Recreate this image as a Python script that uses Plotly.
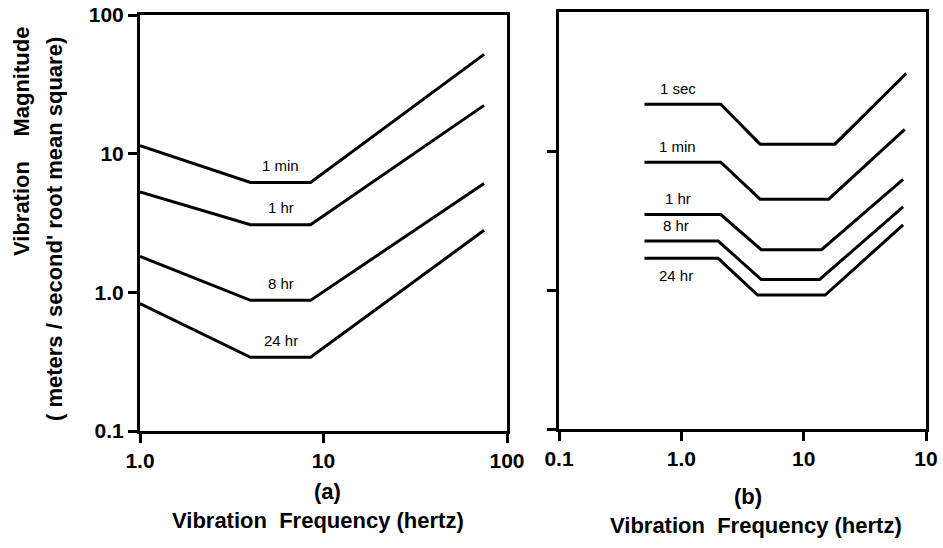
import numpy as np
import plotly.graph_objects as go

# ---------------- Panel (a) data ----------------
a_labels = ["1 min", "1 hr", "8 hr", "24 hr"]
a_freq = [1.0, 4.0, 8.5, 75.0]
a_1min = [11.4, 6.2, 6.2, 52.0]
a_1hr = [5.3, 3.07, 3.07, 22.3]
a_8hr = [1.82, 0.875, 0.875, 6.1]
a_24hr = [0.83, 0.34, 0.34, 2.8]

# ---------------- Panel (b) data ----------------
b_labels = ["1 sec", "1 min", "1 hr", "8 hr", "24 hr"]
b_freq_1sec = [0.5, 2.1, 4.4, 18.0, 69.0]
b_freq_1min = [0.5, 2.1, 4.4, 16.0, 67.0]
b_freq_1hr = [0.5, 2.1, 4.5, 14.0, 65.0]
b_freq_8hr = [0.5, 2.0, 4.5, 13.5, 65.0]
b_freq_24hr = [0.5, 2.0, 4.2, 15.0, 65.0]
b_1sec = [21.7, 21.7, 11.2, 11.2, 36.2]
b_1min = [8.3, 8.3, 4.5, 4.5, 14.3]
b_1hr = [3.49, 3.49, 1.95, 1.95, 6.25]
b_8hr = [2.25, 2.25, 1.19, 1.19, 3.97]
b_24hr = [1.69, 1.69, 0.92, 0.92, 2.94]

# ---------------- Tick labels ----------------
a_xtickvals = [1, 10, 100]
a_xticktext = ["1.0", "10", "100"]
a_ytickvals = [0.1, 1, 10, 100]
a_yticktext = ["0.1", "1.0", "10", "100"]
b_xtickvals = [0.1, 1, 10, 100]
b_xticktext = ["0.1", "1.0", "10", "10"]
b_ytickvals = [0.1, 1, 10]

W, H = 943, 548
FONT = "Liberation Sans, Arial, sans-serif"
NB = "\u00a0"

fig = go.Figure()

line_style = dict(color="black", width=3)

a_series = [a_1min, a_1hr, a_8hr, a_24hr]
for name, ys in zip(a_labels, a_series):
    fig.add_trace(go.Scatter(x=a_freq, y=ys, mode="lines", line=line_style,
                             xaxis="x", yaxis="y", name=name, showlegend=False,
                             hoverinfo="skip"))

b_series = [(b_freq_1sec, b_1sec), (b_freq_1min, b_1min), (b_freq_1hr, b_1hr),
            (b_freq_8hr, b_8hr), (b_freq_24hr, b_24hr)]
for name, (xs, ys) in zip(b_labels, b_series):
    fig.add_trace(go.Scatter(x=xs, y=ys, mode="lines", line=line_style,
                             xaxis="x2", yaxis="y2", name=name, showlegend=False,
                             hoverinfo="skip"))

annotations = []
lab_font = dict(family=FONT, size=15, color="black")
# curve labels panel (a): centred over the flat part
for name, ys in zip(a_labels, a_series):
    xm = np.sqrt(a_freq[1] * a_freq[2])
    annotations.append(dict(x=np.log10(xm), y=np.log10(ys[1]), xref="x", yref="y",
                            text=name, showarrow=False, yshift=17,
                            xanchor="center", yanchor="middle", font=lab_font))
# curve labels panel (b): over the left flat part (24 hr below)
for name, (xs, ys) in zip(b_labels, b_series):
    xm = np.sqrt(xs[0] * xs[1])
    shift = -17 if name == "24 hr" else 16
    annotations.append(dict(x=np.log10(xm), y=np.log10(ys[0]), xref="x2", yref="y2",
                            text=name, showarrow=False, yshift=shift, xshift=-5,
                            xanchor="center", yanchor="middle", font=lab_font))

bold = dict(family=FONT, size=22, color="black", weight="bold")
title_txt = "Vibration" + NB * 2 + "Frequency" + NB + "(hertz)"


def paper_text(x, y, text, angle=0):
    return dict(x=x / W, y=1 - y / H, xref="paper", yref="paper", text=text,
                showarrow=False, xanchor="center", yanchor="middle",
                textangle=angle, font=bold)


annotations += [
    paper_text(327, 491, "(a)"),
    paper_text(318, 520, title_txt),
    paper_text(748, 496, "(b)"),
    paper_text(756, 525, title_txt),
    paper_text(22, 142, "Vibration" + NB * 4 + "Magnitude", -90),
    paper_text(54, 229, "(" + NB + "meters" + NB + "/" + NB + "second'" + NB + "root"
               + NB + "mean" + NB + "square)", -90),
]

tickfont = dict(family=FONT, size=21, color="black", weight="bold")
axis_common = dict(type="log", showline=True, linecolor="black", linewidth=3, mirror=True,
                   ticks="outside", ticklen=9, tickwidth=3, tickcolor="black",
                   showgrid=False, zeroline=False, tickfont=tickfont, automargin=False)

fig.update_layout(
    width=W, height=H,
    margin=dict(l=0, r=0, t=0, b=0, autoexpand=False),
    paper_bgcolor="white", plot_bgcolor="white",
    showlegend=False,
    xaxis=dict(axis_common, domain=[140 / W, 507 / W], range=[0, 2], anchor="y",
               tickvals=a_xtickvals, ticktext=a_xticktext),
    yaxis=dict(axis_common, domain=[1 - 431 / H, 1 - 15 / H], range=[-1, 2], anchor="x",
               tickvals=a_ytickvals, ticktext=a_yticktext),
    xaxis2=dict(axis_common, domain=[559 / W, 926 / W], range=[-1, 2], anchor="y2",
                tickvals=b_xtickvals, ticktext=b_xticktext),
    yaxis2=dict(axis_common, domain=[1 - 429 / H, 1 - 12 / H], range=[-1, 2], anchor="x2",
                tickvals=b_ytickvals, showticklabels=False),
    annotations=annotations,
)

fig.write_html("out.html")
